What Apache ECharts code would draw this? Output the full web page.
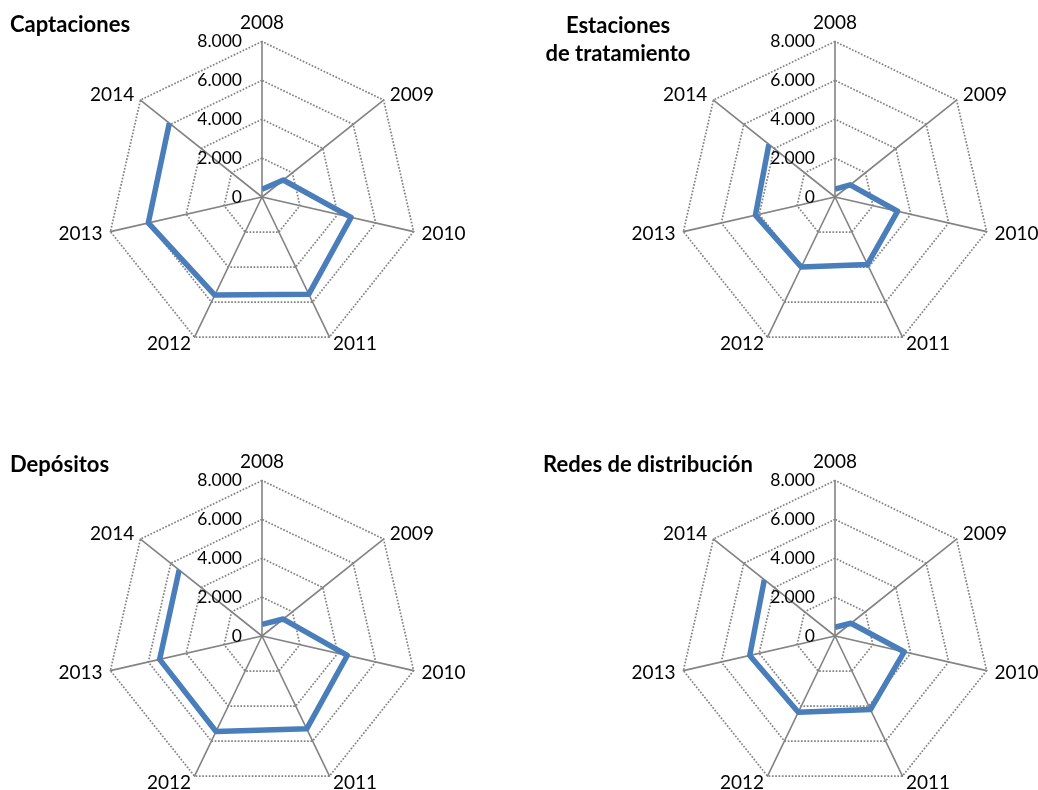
<!DOCTYPE html>
<html>
<head>
<meta charset="utf-8">
<script src="https://cdn.jsdelivr.net/npm/echarts@6/dist/echarts.min.js"></script>
<style>
  html, body { margin: 0; padding: 0; background: #ffffff; }
  #chart { width: 1038px; height: 790px; }
</style>
</head>
<body>
<div id="chart"></div>
<script>
// Years shown on the spokes, clockwise from the top
const years = ['2008', '2009', '2010', '2011', '2012', '2013', '2014'];

// Values per panel, one per year
const captaciones = [400, 1400, 4700, 5550, 5600, 6000, 6100];
const estaciones = [400, 1000, 3300, 3850, 4000, 4200, 4350];
const depositos = [600, 1400, 4500, 5300, 5450, 5400, 5450];
const redes = [450, 1050, 3650, 4200, 4350, 4500, 4650];

// Panel titles
const titles = ['Captaciones', 'Estaciones\nde tratamiento', 'Depósitos', 'Redes de distribución'];

// Radial scale
const valueMax = 8000;
const ringCount = 4;

const seriesValues = [captaciones, estaciones, depositos, redes];

const FONT = 'Lato, "Open Sans", sans-serif';
const GRID = '#838383';
const LINE = '#4a7ebb';
const R = 155.5;

// Panel placement (centers of the spider webs and title anchors)
const panels = [
  { center: [262, 197], title: { left: 10, top: 11 } },
  { center: [835, 197], title: { left: 618, top: 12, textAlign: 'center' } },
  { center: [262, 636], title: { left: 10, top: 451 } },
  { center: [835, 636], title: { left: 543, top: 451 } }
];

// Radar indicators run counter-clockwise, so feed them reversed after the first
const spokeOrder = [0, 6, 5, 4, 3, 2, 1];

function thousands(v) {
  return String(Math.round(v)).replace(/\B(?=(\d{3})+(?!\d))/g, '.');
}

const chart = echarts.init(document.getElementById('chart'), null, { renderer: 'canvas' });

const option = {
  animation: false,
  backgroundColor: '#ffffff',
  title: panels.map((p, k) => Object.assign({
    text: titles[k],
    padding: 0,
    textStyle: { fontFamily: FONT, fontWeight: 'bold', fontSize: 22, color: '#000', lineHeight: 28 }
  }, p.title)),
  radar: panels.map(p => ({
    center: p.center,
    radius: R,
    startAngle: 90,
    splitNumber: ringCount,
    shape: 'polygon',
    indicator: spokeOrder.map(i => ({
      name: years[i], min: 0, max: valueMax,
      axisLabel: { show: i === 0 }
    })),
    nameGap: 8,
    axisName: { color: '#000', fontFamily: FONT, fontSize: 19 },
    axisLine: { lineStyle: { color: GRID, width: 1.6 } },
    axisTick: { show: false },
    splitLine: { lineStyle: { color: GRID, width: 1.7, type: [1.7, 1.6] } },
    splitArea: { show: false },
    axisLabel: {
      show: true, color: '#000', fontFamily: FONT, fontSize: 17.5, margin: 20,
      formatter: v => thousands(v)
    }
  })),
  polar: panels.map(p => ({ center: p.center, radius: R })),
  angleAxis: panels.map((p, k) => ({
    polarIndex: k, type: 'category', data: years, boundaryGap: false,
    startAngle: 90, clockwise: true, show: false
  })),
  radiusAxis: panels.map((p, k) => ({
    polarIndex: k, min: 0, max: valueMax, show: false
  })),
  series: panels.map((p, k) => ({
    type: 'line',
    coordinateSystem: 'polar',
    polarIndex: k,
    data: seriesValues[k],
    showSymbol: false,
    silent: true,
    z: 10,
    lineStyle: { color: LINE, width: 5.5, cap: 'butt', join: 'round' }
  }))
};

chart.setOption(option);
</script>
</body>
</html>
